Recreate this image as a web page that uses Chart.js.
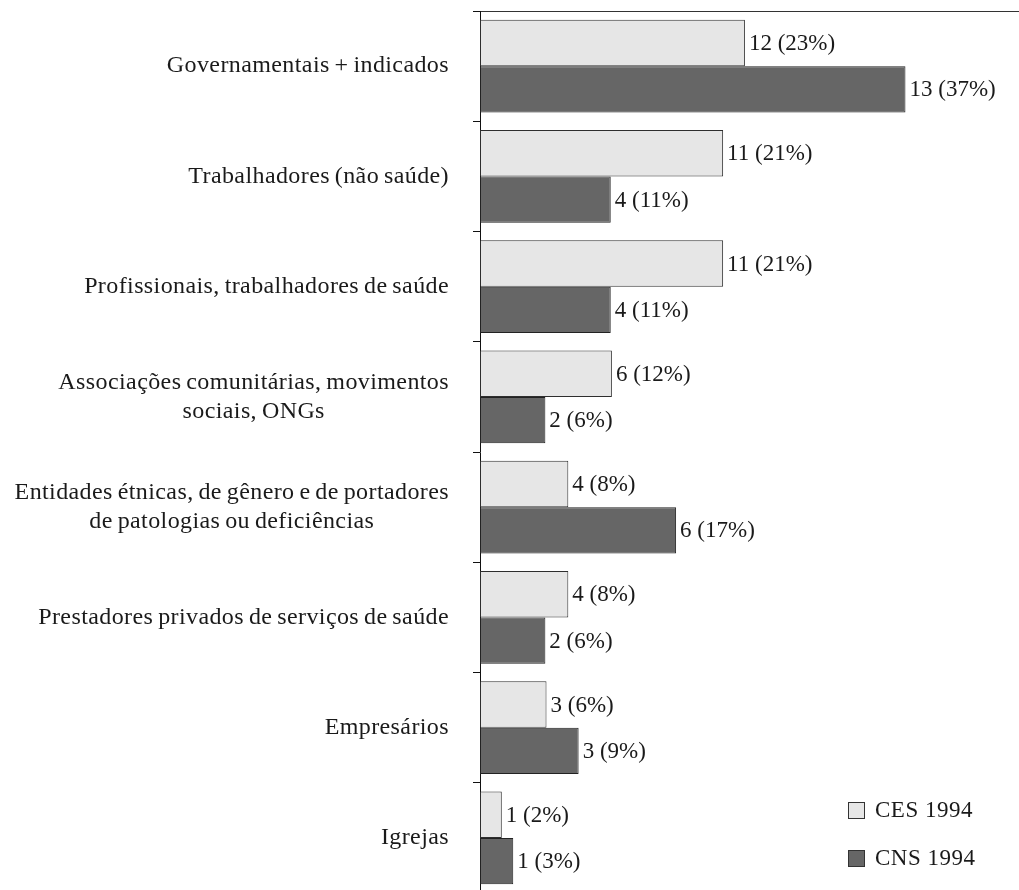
<!doctype html>
<html>
<head>
<title>CES x CNS 1994</title>
<script src="https://cdn.jsdelivr.net/npm/chart.js@4.4.1/dist/chart.umd.min.js"></script>
<style>
html, body { margin: 0; padding: 0; background: #fff; overflow: hidden; }
canvas { display: block; }
</style>
</head>
<body>
	<canvas id="canvas" width="1019" height="894"></canvas>

	<script>
		// categorias (quebras de linha como no original)
		var categorias = [
			['Governamentais + indicados'],
			['Trabalhadores (não saúde)'],
			['Profissionais, trabalhadores de saúde'],
			['Associações comunitárias, movimentos', 'sociais, ONGs'],
			['Entidades étnicas, de gênero e de portadores', 'de patologias ou deficiências'],
			['Prestadores privados de serviços de saúde'],
			['Empresários'],
			['Igrejas']
		];

		// percentuais (comprimento das barras) e números absolutos
		var cesPct = [23.1, 21.2, 21.2, 11.5, 7.7, 7.7, 5.8, 1.9];
		var cnsPct = [37.1, 11.4, 11.4, 5.7, 17.1, 5.7, 8.6, 2.9];
		var cesN   = [12, 11, 11, 6, 4, 4, 3, 1];
		var cnsN   = [13, 4, 4, 2, 6, 2, 3, 1];

		var serieNomes = ['CES 1994', 'CNS 1994'];
		var serieN = [cesN, cnsN];

		var FONTE = '"Liberation Serif", "Times New Roman", serif';
		var TXT = '#1a1a1a';

		// rotulos das categorias, alinhados a direita com linhas centradas
		var rotulosPlugin = {
			id: 'rotulos',
			afterDraw: function(chart) {
				var ctx = chart.ctx;
				var yScale = chart.scales.y;
				var dir = chart.chartArea.left - 31;
				ctx.save();
				ctx.font = '24px ' + FONTE;
				ctx.letterSpacing = '0.4px';
				ctx.wordSpacing = '-1.5px';
				ctx.fillStyle = TXT;
				ctx.textAlign = 'center';
				ctx.textBaseline = 'middle';
				var lh = 29;
				categorias.forEach(function(linhas, i) {
					var y = yScale.getPixelForTick(i);
					var maxW = 0;
					linhas.forEach(function(l) { maxW = Math.max(maxW, ctx.measureText(l).width); });
					var cx = dir - maxW / 2;
					linhas.forEach(function(l, j) {
						ctx.fillText(l, cx, y + (j - (linhas.length - 1) / 2) * lh);
					});
				});
				ctx.restore();
			}
		};

		// valores "n (x%)" ao lado das barras
		var valoresPlugin = {
			id: 'valores',
			afterDatasetsDraw: function(chart) {
				var ctx = chart.ctx;
				ctx.save();
				ctx.font = '23px ' + FONTE;
				ctx.fillStyle = TXT;
				ctx.textAlign = 'left';
				ctx.textBaseline = 'middle';
				chart.data.datasets.forEach(function(ds, d) {
					var meta = chart.getDatasetMeta(d);
					meta.data.forEach(function(bar, i) {
						var txt = serieN[d][i] + ' (' + Math.round(ds.data[i]) + '%)';
						ctx.fillText(txt, bar.x + 4, bar.y + 1);
					});
				});
				ctx.restore();
			}
		};

		// legenda no canto inferior direito
		var legendaPlugin = {
			id: 'legenda',
			afterDraw: function(chart) {
				var ctx = chart.ctx;
				var area = chart.chartArea;
				var x = area.right - 171;
				var y0 = area.bottom - 83;
				ctx.save();
				ctx.font = '23px ' + FONTE;
				ctx.letterSpacing = '0.5px';
				ctx.textAlign = 'left';
				ctx.textBaseline = 'middle';
				chart.data.datasets.forEach(function(ds, d) {
					var y = y0 + d * 48;
					ctx.fillStyle = ds.backgroundColor;
					ctx.fillRect(x, y - 8, 17, 17);
					ctx.strokeStyle = '#333';
					ctx.lineWidth = 1;
					ctx.strokeRect(x + 0.5, y - 7.5, 16, 16);
					ctx.fillStyle = TXT;
					ctx.fillText(ds.label, x + 27, y + 1);
				});
				ctx.restore();
			}
		};

		var ctx = document.getElementById('canvas').getContext('2d');
		window.myChart = new Chart(ctx, {
			type: 'bar',
			data: {
				labels: categorias,
				datasets: [{
					label: serieNomes[0],
					data: cesPct,
					backgroundColor: '#e6e6e6',
					borderColor: '#2e2e2e',
					borderWidth: 1,
					borderSkipped: false
				}, {
					label: serieNomes[1],
					data: cnsPct,
					backgroundColor: '#666666',
					borderColor: '#222',
					borderWidth: 1,
					borderSkipped: false
				}]
			},
			options: {
				indexAxis: 'y',
				responsive: false,
				animation: false,
				layout: { padding: { top: 11, right: 0, bottom: 1, left: 0 } },
				datasets: {
					bar: { categoryPercentage: 0.84, barPercentage: 1.0 }
				},
				plugins: {
					legend: { display: false },
					tooltip: { enabled: false }
				},
				scales: {
					x: {
						position: 'top',
						min: 0,
						max: 47,
						ticks: { display: false },
						grid: { display: false, drawTicks: false },
						border: { display: true, color: '#333', width: 1 },
						afterFit: function(s) { s.height = 0; }
					},
					y: {
						position: 'left',
						offset: true,
						ticks: { display: false },
						grid: {
							display: true,
							drawOnChartArea: false,
							drawTicks: true,
							tickLength: 7,
							color: '#111',
							offset: true
						},
						border: { display: true, color: '#111', width: 1 },
						afterFit: function(s) { s.width = 480; }
					}
				}
			},
			plugins: [rotulosPlugin, valoresPlugin, legendaPlugin]
		});
	</script>
</body>
</html>
